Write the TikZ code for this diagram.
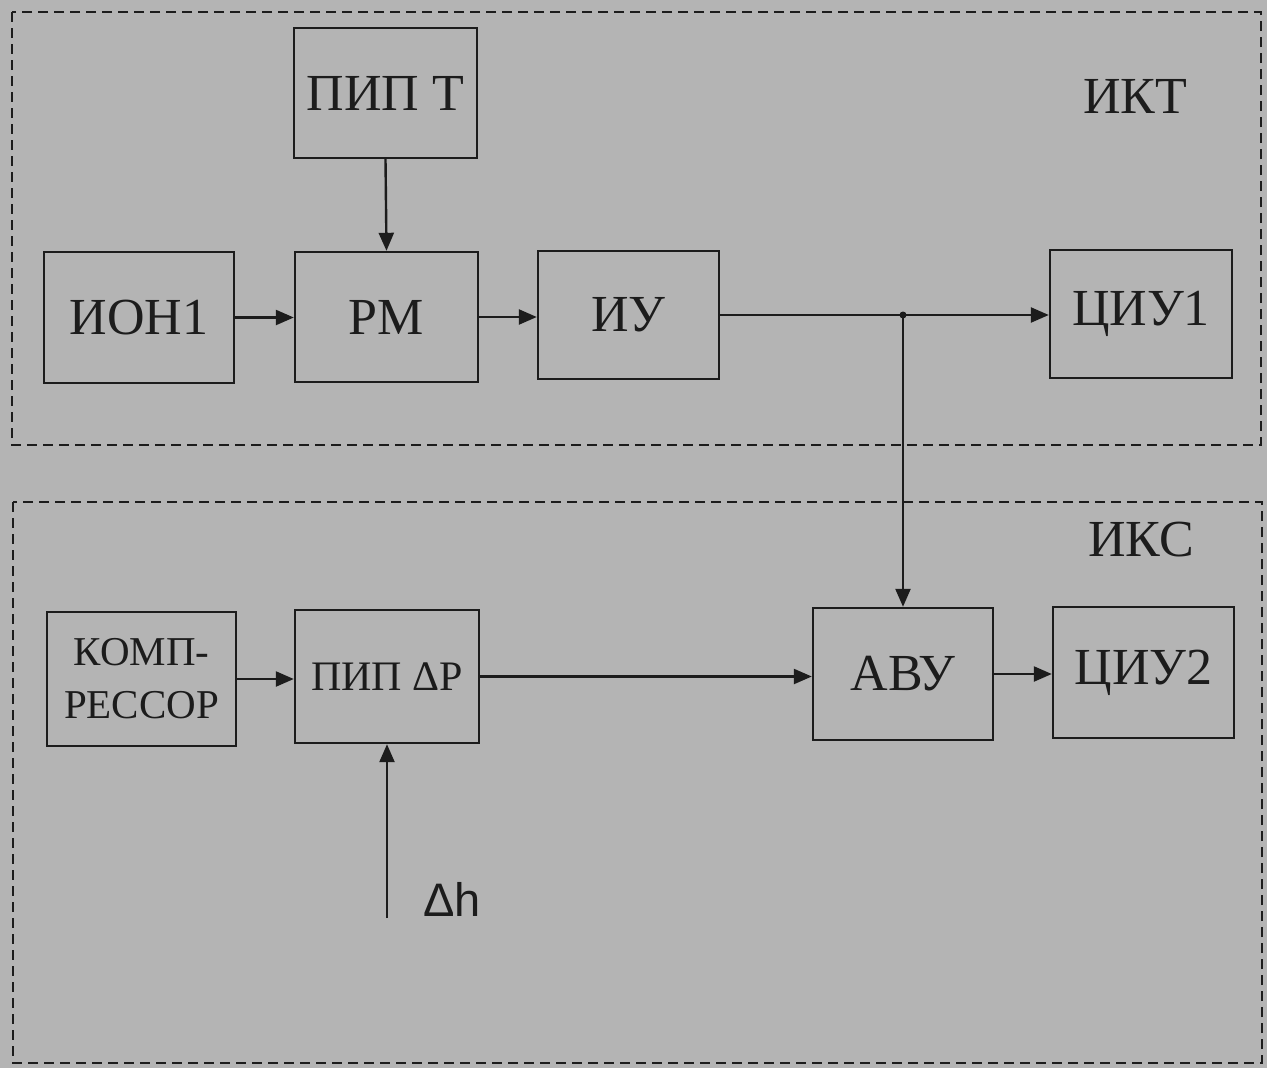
\documentclass[tikz,border=0pt]{standalone}
\usepackage{fontspec}
\setmainfont{Liberation Serif}
\newfontfamily\sansf{Liberation Sans}
\usetikzlibrary{arrows.meta}
\definecolor{paper}{RGB}{180,180,180}
\definecolor{ink}{RGB}{28,28,28}
\tikzset{
  blk/.style={draw=ink, line width=2.4pt, fill=none, text=ink, inner sep=0pt,
    font=\fontsize{52}{56}\selectfont, align=center},
  arr/.style={draw=ink, line width=2.4pt, -{Triangle[length=18pt,width=15pt]}},
  wire/.style={draw=ink, line width=2.4pt},
  frame/.style={draw=ink, line width=2pt, dash pattern=on 10pt off 6pt},
  lbl/.style={text=ink, inner sep=0pt, font=\fontsize{52}{56}\selectfont}
}
\begin{document}
\begin{tikzpicture}[x=1pt,y=-1pt]
  % page
  \fill[paper] (0,0) rectangle (1267,1068);
  \useasboundingbox (0,0) rectangle (1267,1068);

  % measuring channel frames
  \draw[frame] (12,12) rectangle (1261,445);
  \draw[frame] (13,502) rectangle (1262,1063);
  \node[lbl] (ikt) at (1135,96) {ИКТ};
  \node[lbl] (iks) at (1141,540) {ИКС};

  % temperature channel
  \node[blk, minimum width=183pt, minimum height=130pt] (pipt) at (385.5,93) {ПИП Т};
  \node[blk, minimum width=190pt, minimum height=131pt] (ion) at (139,317.5) {ИОН1};
  \node[blk, minimum width=183pt, minimum height=130pt] (rm) at (386.5,317) {РМ};
  \node[blk, minimum width=181pt, minimum height=128pt] (iu) at (628.5,315) {ИУ};
  \node[blk, minimum width=182pt, minimum height=128pt] (ciu1) at (1141,314) {ЦИУ1};

  % sugar content channel
  \node[blk, minimum width=189pt, minimum height=134pt,
        font=\fontsize{41}{53}\selectfont] (komp) at (141.5,679) {КОМП-\\РЕССОР};
  \node[blk, minimum width=184pt, minimum height=133pt,
        font=\fontsize{42}{46}\selectfont] (pipp) at (387,676.5) {ПИП ΔР};
  \node[blk, minimum width=180pt, minimum height=132pt] (avu) at (903,674) {АВУ};
  \node[blk, minimum width=181pt, minimum height=131pt] (ciu2) at (1143.5,672.5) {ЦИУ2};
  \node[lbl, font=\sansf\fontsize{47}{50}\selectfont] (dh) at (452,899) {Δh};
  \coordinate (dhin) at (387,918);

  % connections
  \draw[arr] (pipt.south) -- (rm.north);
  \draw[arr] (ion.east) -- (ion.east -| rm.west);
  \draw[arr] (rm.east) -- (rm.east -| iu.west);
  \draw[arr] (iu.east) -- (iu.east -| ciu1.west);
  \coordinate (jn) at (avu.north |- iu.east);
  \fill[ink] (jn) circle (3.5pt);
  \draw[arr] (jn) -- (avu.north);
  \draw[arr] (komp.east) -- (komp.east -| pipp.west);
  \draw[arr] (pipp.east) -- (pipp.east -| avu.west);
  \draw[arr] (avu.east) -- (avu.east -| ciu2.west);
  \draw[arr] (dhin) -- (dhin |- pipp.south);
\end{tikzpicture}
\end{document}
